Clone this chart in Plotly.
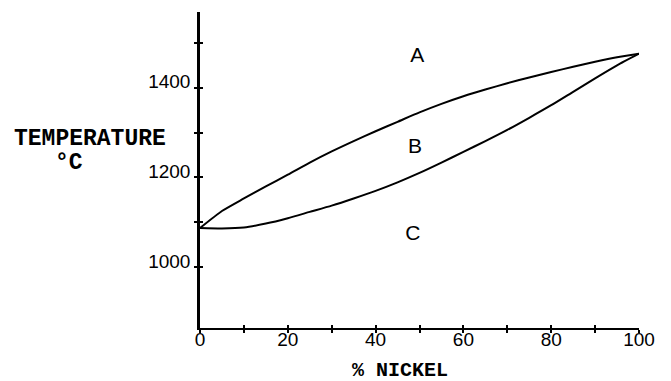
import plotly.graph_objects as go

# ---- data ----
nickel_pct = [0, 5, 10, 15, 20, 25, 30, 35, 40, 45, 50, 55, 60, 65, 70, 75, 80, 85, 90, 95, 100]
liquidus_c = [1087, 1125, 1153, 1180, 1206, 1233, 1258, 1281, 1303, 1324, 1345, 1364, 1381, 1396, 1410, 1423, 1435, 1447, 1458, 1468, 1476]
solidus_c = [1087, 1086, 1088, 1097, 1109, 1123, 1137, 1153, 1170, 1189, 1210, 1233, 1257, 1281, 1306, 1333, 1361, 1391, 1421, 1450, 1476]

region_labels = ["A", "B", "C"]
region_x = [49.5, 49.0, 48.5]
region_y = [1469, 1266, 1071]

x_tick_vals = [0, 10, 20, 30, 40, 50, 60, 70, 80, 90, 100]
x_tick_text = ["0", "", "20", "", "40", "", "60", "", "80", "", "100"]
x_minor_vals = [10, 20, 30, 40, 50, 60, 70, 80, 90]
y_tick_vals = [1000, 1100, 1200, 1300, 1400, 1500]
y_tick_text = ["1000", "", "1200", "", "1400", ""]

x_range = [0, 100]
y_range = [864, 1569]

sans = "Liberation Sans, Arial, sans-serif"
mono = "Liberation Mono, Courier New, monospace"

fig = go.Figure()
fig.add_trace(go.Scatter(x=nickel_pct, y=liquidus_c, mode="lines",
                         line=dict(color="black", width=2, shape="spline", smoothing=0.6),
                         showlegend=False, hoverinfo="skip"))
fig.add_trace(go.Scatter(x=nickel_pct, y=solidus_c, mode="lines",
                         line=dict(color="black", width=2, shape="spline", smoothing=0.6),
                         showlegend=False, hoverinfo="skip"))
fig.add_trace(go.Scatter(x=region_x, y=region_y, mode="text", text=region_labels,
                         textfont=dict(family=sans, size=21, color="black"),
                         textposition="middle center", showlegend=False, hoverinfo="skip"))
# dummy trace for overlay axes (inner half of the crossing ticks)
fig.add_trace(go.Scatter(x=[None], y=[None], xaxis="x2", yaxis="y2",
                         showlegend=False, hoverinfo="skip"))

# page body has an 8px margin, so the figure is sized/offset to compensate
fig.update_layout(
    width=663, height=373,
    margin=dict(l=192, r=32, t=4, b=53),
    paper_bgcolor="white", plot_bgcolor="white",
    xaxis=dict(range=x_range, tickvals=x_tick_vals, ticktext=x_tick_text,
               ticks="outside", ticklen=3, tickwidth=1.5, tickcolor="black",
               showline=True, linecolor="black", linewidth=2,
               showgrid=False, zeroline=False, ticklabelstandoff=-10,
               tickfont=dict(family=sans, size=19, color="black")),
    yaxis=dict(range=y_range, tickvals=y_tick_vals, ticktext=y_tick_text,
               ticks="outside", ticklen=3, tickwidth=1.5, tickcolor="black",
               showline=True, linecolor="black", linewidth=2.5,
               showgrid=False, zeroline=False, ticklabelshift=-6,
               tickfont=dict(family=sans, size=19, color="black")),
    xaxis2=dict(range=x_range, overlaying="x", anchor="y2", side="bottom",
                tickvals=x_minor_vals, ticks="inside", ticklen=3, tickwidth=1.5,
                tickcolor="black", showticklabels=False, showline=False,
                showgrid=False, zeroline=False),
    yaxis2=dict(range=y_range, overlaying="y", anchor="x2", side="left",
                tickvals=y_tick_vals, ticks="inside", ticklen=3, tickwidth=1.5,
                tickcolor="black", showticklabels=False, showline=False,
                showgrid=False, zeroline=False),
    annotations=[
        dict(text="TEMPERATURE", xref="paper", yref="paper", x=-0.2506, y=0.597,
             xanchor="center", yanchor="middle", showarrow=False,
             font=dict(family=mono, size=23, color="black", weight="bold")),
        dict(text="°C", xref="paper", yref="paper", x=-0.298, y=0.522,
             xanchor="center", yanchor="middle", showarrow=False,
             font=dict(family=mono, size=23, color="black", weight="bold")),
        dict(text="% NICKEL", xref="paper", yref="paper", x=0.455, y=-0.134,
             xanchor="center", yanchor="middle", showarrow=False,
             font=dict(family=mono, size=20, color="black", weight="bold")),
    ],
)

fig.write_html("out.html")
